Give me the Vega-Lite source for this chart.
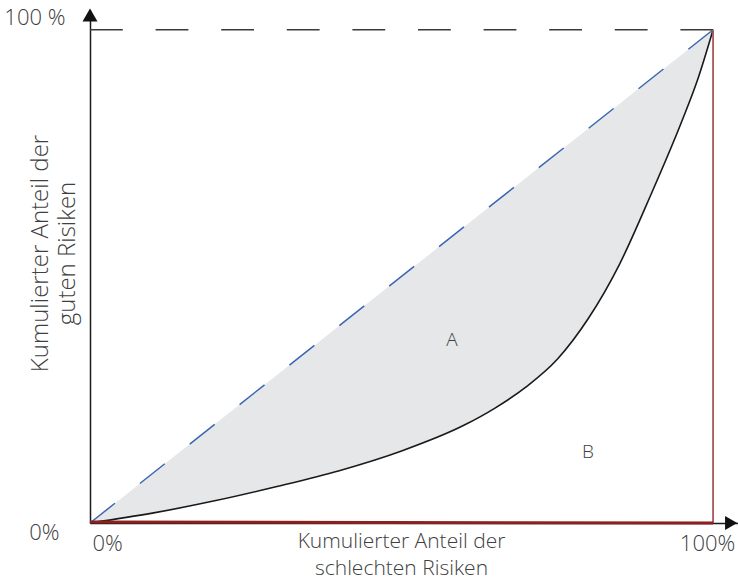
{
  "$schema": "https://vega.github.io/schema/vega-lite/v6.json",
  "width": 648,
  "height": 513,
  "autosize": {"type": "none"},
  "padding": {"left": 90, "top": 10, "right": 0, "bottom": 59},
  "background": "white",
  "config": {"view": {"stroke": null}, "font": "Open Sans"},
  "datasets": {
    "curve": [
      {"x": 0, "d": 0, "c": 0},
      {"x": 10, "d": 10, "c": 2.0},
      {"x": 20, "d": 20, "c": 4.5},
      {"x": 30, "d": 30, "c": 7.4},
      {"x": 40, "d": 40, "c": 10.6},
      {"x": 50, "d": 50, "c": 14.6},
      {"x": 60, "d": 60, "c": 19.8},
      {"x": 65, "d": 65, "c": 23.3},
      {"x": 70, "d": 70, "c": 27.6},
      {"x": 75, "d": 75, "c": 33.2},
      {"x": 80, "d": 80, "c": 41.5},
      {"x": 85, "d": 85, "c": 52.5},
      {"x": 90, "d": 90, "c": 66.5},
      {"x": 95, "d": 95, "c": 81.5},
      {"x": 97.5, "d": 97.5, "c": 89.8},
      {"x": 100, "d": 100, "c": 100}
    ],
    "segments": [
      {"name": "diag", "x": 0, "y": 0, "x2": 100, "y2": 100},
      {"name": "top", "x": 0, "y": 100, "x2": 100, "y2": 100},
      {"name": "bottom", "x": 0, "y": 0, "x2": 100, "y2": 0},
      {"name": "right", "x": 100, "y": 0, "x2": 100, "y2": 100}
    ],
    "labels": [
      {"t": "A", "x": 58.1, "y": 37.1},
      {"t": "B", "x": 79.9, "y": 14.4}
    ],
    "arrows": [
      {"dir": "up", "x": 0, "y": 103.0},
      {"dir": "right", "x": 102.9, "y": 0}
    ]
  },
  "layer": [
    {
      "data": {"name": "curve"},
      "mark": {"type": "area", "color": "#e6e7e8", "interpolate": "monotone"},
      "encoding": {
        "x": {
          "field": "x", "type": "quantitative",
          "scale": {"domain": [0, 104], "nice": false, "zero": false},
          "axis": {
            "values": [0, 100],
            "labelExpr": "datum.value == 0 ? '0%' : '100%'",
            "grid": false, "ticks": false,
            "domainColor": "#1a1a1a", "domainWidth": 1.5,
            "labelFont": "Open Sans", "labelFontSize": 22, "labelColor": "#404040", "labelFontWeight": 300,
            "labelAlign": {"condition": {"test": "datum.value == 0", "value": "left"}, "value": "center"},
            "labelOffset": {"condition": {"test": "datum.value == 0", "value": 2}, "value": -6},
            "labelBaseline": "middle",
            "labelPadding": 20,
            "labelFlush": false,
            "labelOverlap": false,
            "title": ["Kumulierter Anteil der", "schlechten Risiken"],
            "titleFont": "Open Sans", "titleFontSize": 21, "titleColor": "#404040", "titleFontWeight": 300,
            "titleX": 311, "titleY": 18.5, "titleBaseline": "middle", "titleAlign": "center", "titleLineHeight": 27
          }
        },
        "y": {
          "field": "d", "type": "quantitative",
          "scale": {"domain": [0, 104], "nice": false, "zero": false},
          "axis": {
            "values": [0, 100],
            "labelExpr": "datum.value == 0 ? '0%' : '100 %'",
            "grid": false, "ticks": false,
            "domainColor": "#1a1a1a", "domainWidth": 1.5,
            "labelFont": "Open Sans", "labelFontSize": 22, "labelColor": "#404040", "labelFontWeight": 300,
            "labelAlign": "right", "labelBaseline": "middle",
            "labelOffset": {"condition": {"test": "datum.value == 0", "value": 9}, "value": -12},
            "labelPadding": {"condition": {"test": "datum.value == 0", "value": 31}, "value": 25},
            "labelFlush": false,
            "labelOverlap": false,
            "title": ["Kumulierter Anteil der", "guten Risiken"],
            "titleFont": "Open Sans", "titleFontSize": 24, "titleColor": "#404040", "titleFontWeight": 300,
            "titleX": -49.5, "titleY": 243, "titleAngle": -90, "titleBaseline": "middle", "titleAlign": "center", "titleLineHeight": 27
          }
        },
        "y2": {"field": "c"}
      }
    },
    {
      "data": {"name": "curve"},
      "mark": {"type": "line", "color": "#1a1a1a", "strokeWidth": 1.6, "interpolate": "monotone"},
      "encoding": {
        "x": {"field": "x", "type": "quantitative"},
        "y": {"field": "c", "type": "quantitative"}
      }
    },
    {
      "data": {"name": "segments"},
      "transform": [{"filter": "datum.name == 'diag'"}],
      "mark": {"type": "rule", "color": "#3b65b5", "strokeWidth": 1.5, "strokeDash": [31.8, 31.8]},
      "encoding": {
        "x": {"field": "x", "type": "quantitative"},
        "y": {"field": "y", "type": "quantitative"},
        "x2": {"field": "x2"},
        "y2": {"field": "y2"}
      }
    },
    {
      "data": {"name": "segments"},
      "transform": [{"filter": "datum.name == 'top'"}],
      "mark": {"type": "rule", "color": "#3a3a3a", "strokeWidth": 1.5, "strokeDash": [32.8, 32.8]},
      "encoding": {
        "x": {"field": "x", "type": "quantitative"},
        "y": {"field": "y", "type": "quantitative"},
        "x2": {"field": "x2"},
        "y2": {"field": "y2"}
      }
    },
    {
      "data": {"name": "segments"},
      "transform": [{"filter": "datum.name == 'right'"}],
      "mark": {"type": "rule", "color": "#a85858", "strokeWidth": 1.8},
      "encoding": {
        "x": {"field": "x", "type": "quantitative"},
        "y": {"field": "y", "type": "quantitative"},
        "x2": {"field": "x2"},
        "y2": {"field": "y2"}
      }
    },
    {
      "data": {"name": "segments"},
      "transform": [{"filter": "datum.name == 'bottom'"}],
      "mark": {"type": "rule", "color": "#8c1f1f", "strokeWidth": 3, "yOffset": -1},
      "encoding": {
        "x": {"field": "x", "type": "quantitative"},
        "y": {"field": "y", "type": "quantitative"},
        "x2": {"field": "x2"},
        "y2": {"field": "y2"}
      }
    },
    {
      "data": {"name": "labels"},
      "mark": {"type": "text", "font": "Open Sans", "fontSize": 19, "fontWeight": 300, "color": "#404040"},
      "encoding": {
        "x": {"field": "x", "type": "quantitative"},
        "y": {"field": "y", "type": "quantitative"},
        "text": {"field": "t"}
      }
    },
    {
      "data": {"name": "arrows"},
      "mark": {"type": "point", "filled": true, "color": "#111111", "opacity": 1, "strokeWidth": 0},
      "encoding": {
        "x": {"field": "x", "type": "quantitative"},
        "y": {"field": "y", "type": "quantitative"},
        "shape": {"field": "dir", "type": "nominal", "scale": {"domain": ["up", "right"], "range": ["triangle-up", "triangle-right"]}, "legend": null},
        "size": {"field": "dir", "type": "nominal", "scale": {"domain": ["up", "right"], "range": [225, 196]}, "legend": null}
      }
    }
  ]
}
